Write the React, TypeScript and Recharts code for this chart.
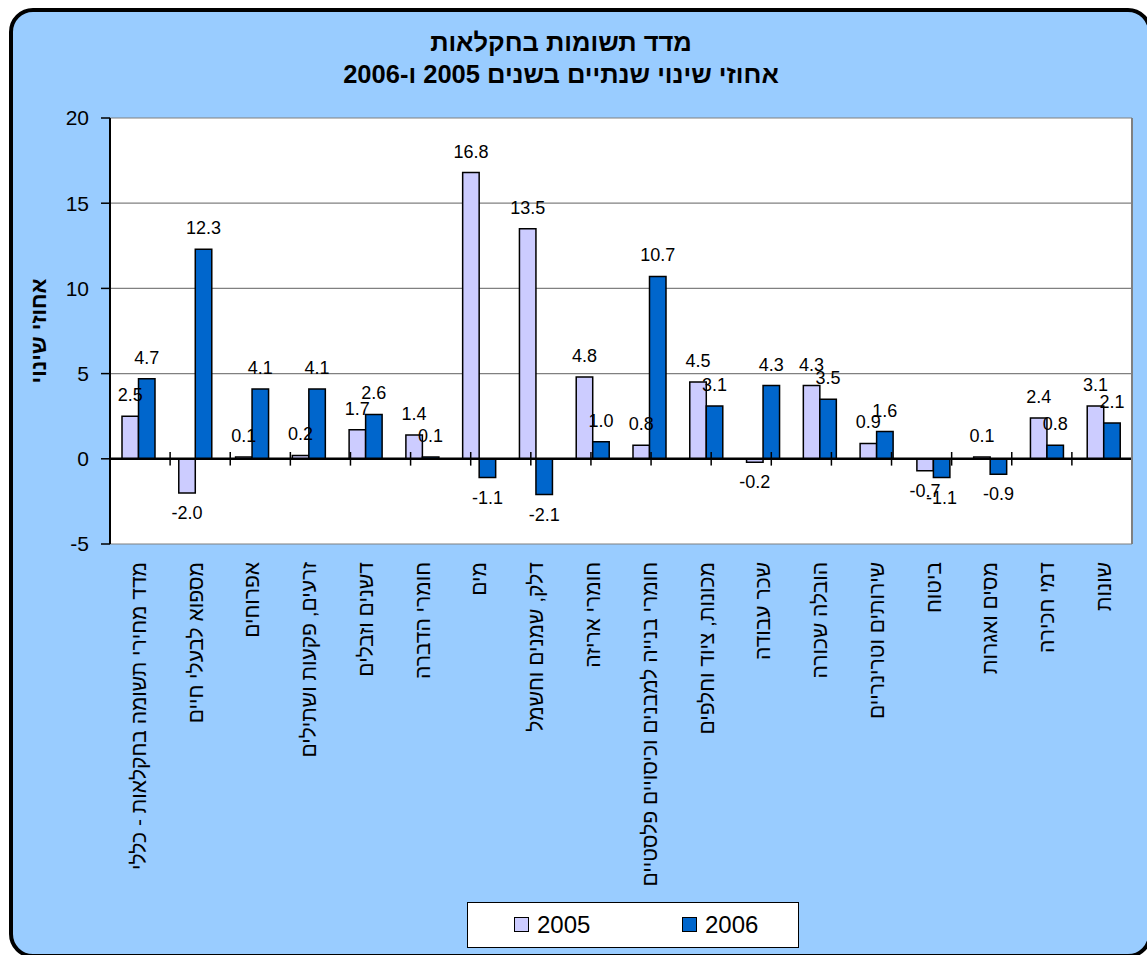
import React from 'react';
import { BarChart, Bar, XAxis, YAxis, CartesianGrid, ReferenceLine, LabelList, Label } from 'recharts';

const FONT = "Arial, 'Liberation Sans', 'DejaVu Sans', sans-serif";

const categories = [
  'מדד מחירי תשומה בחקלאות - כללי',
  'מספוא לבעלי חיים',
  'אפרוחים',
  'זרעים, פקעות ושתילים',
  'דשנים וזבלים',
  'חומרי הדברה',
  'מים',
  'דלק, שמנים וחשמל',
  'חומרי אריזה',
  'חומרי בנייה למבנים וכיסויים פלסטיים',
  'מכונות, ציוד וחלפים',
  'שכר עבודה',
  'הובלה שכורה',
  'שירותים וטרינריים',
  'ביטוח',
  'מסים ואגרות',
  'דמי חכירה',
  'שונות',
];

const values2005 = [2.5, -2.0, 0.1, 0.2, 1.7, 1.4, 16.8, 13.5, 4.8, 0.8, 4.5, -0.2, 4.3, 0.9, -0.7, 0.1, 2.4, 3.1];
const values2006 = [4.7, 12.3, 4.1, 4.1, 2.6, 0.1, -1.1, -2.1, 1.0, 10.7, 3.1, 4.3, 3.5, 1.6, -1.1, -0.9, 0.8, 2.1];

const seriesNames = ['2005', '2006'];
const seriesColors = ['#CCCCFF', '#0066CC'];
const yTicks = [-5, 0, 5, 10, 15, 20];
const yDomain = [-5, 20];

const titleLine1 = 'מדד תשומות בחקלאות';
const titleLine2 = 'אחוזי שינוי שנתיים בשנים 2005 ו-2006';
const yAxisTitle = 'אחוזי שינוי';

const data = categories.map((name, i) => ({ name, v2005: values2005[i], v2006: values2006[i] }));
const boundaries = [...categories.map((_, i) => i), categories.length];

const renderValueLabel = (props: any) => {
  const { x, y, width, height, value } = props;
  const xx = Number(x), yy = Number(y), w = Number(width), h = Number(height);
  const top = Math.min(yy, yy + h);
  const bottom = Math.max(yy, yy + h);
  const cx = xx + w / 2;
  const cy = Number(value) >= 0 ? top - 21 : bottom + 20;
  return (
    <text x={cx} y={cy} textAnchor="middle" dominantBaseline="central" fontSize={18} fontFamily={FONT} fill="#000">
      {Number(value).toFixed(1)}
    </text>
  );
};

const renderXTick = (props: any) => {
  const { x, y, payload } = props;
  return (
    <text
      transform={`translate(${x},${y}) rotate(-90)`}
      textAnchor="end"
      dy="0.35em"
      fontSize={21}
      fontFamily={FONT}
      fill="#000"
    >
      {payload.value}
    </text>
  );
};

const renderYTitle = (props: any) => {
  const vb = props.viewBox || {};
  const cx = vb.x + 18;
  const cy = vb.y + vb.height / 2;
  return (
    <text
      transform={`translate(${cx},${cy}) rotate(-90)`}
      textAnchor="middle"
      dominantBaseline="central"
      fontSize={22}
      fontWeight="bold"
      fontFamily={FONT}
      fill="#000"
    >
      {yAxisTitle}
    </text>
  );
};

export default function App() {
  return (
    <div style={{ position: 'fixed', left: 0, top: 0, width: 1147, height: 955, overflow: 'hidden', background: '#fff', fontFamily: FONT }}>
      <div
        style={{
          position: 'absolute',
          left: 9,
          top: 8,
          width: 1143,
          height: 950,
          boxSizing: 'border-box',
          border: '4px solid #000',
          borderRadius: 24,
          background: '#99CCFF',
        }}
      />
      <div style={{ position: 'absolute', left: 0, top: 25, width: 1122, textAlign: 'center', direction: 'rtl', fontWeight: 'bold', fontSize: 25.5, lineHeight: '34px', color: '#000' }}>
        {titleLine1}
      </div>
      <div style={{ position: 'absolute', left: 0, top: 57, width: 1122, textAlign: 'center', direction: 'rtl', fontWeight: 'bold', fontSize: 25.5, lineHeight: '34px', color: '#000' }}>
        {titleLine2}
      </div>
      <div style={{ position: 'absolute', left: 0, top: 0 }}>
        <BarChart
          width={1147}
          height={955}
          data={data}
          margin={{ top: 118, right: 10, left: 20, bottom: 51 }}
          barGap={0}
          barSize={16.5}
        >
          <CartesianGrid horizontal vertical={false} stroke="#808080" strokeWidth={1.2} fill="#FFFFFF" fillOpacity={1} />
          <XAxis
            dataKey="name"
            interval={0}
            height={360}
            tickSize={0}
            tickMargin={18}
            axisLine={false}
            tickLine={false}
            tick={renderXTick}
          />
          <XAxis xAxisId="num" type="number" domain={[0, categories.length]} allowDataOverflow hide />
          <YAxis
            domain={yDomain}
            ticks={yTicks}
            interval={0}
            width={90}
            allowDataOverflow
            axisLine={{ stroke: '#000', strokeWidth: 2 }}
            tickLine={{ stroke: '#000', strokeWidth: 1.5 }}
            tickSize={9}
            tickMargin={12}
            tick={{ fontSize: 21, fill: '#000', fontFamily: FONT }}
          >
            <Label content={renderYTitle} />
          </YAxis>
          <YAxis
            yAxisId="r"
            orientation="right"
            domain={yDomain}
            ticks={yTicks}
            width={5}
            tick={false}
            tickLine={false}
            axisLine={{ stroke: '#808080', strokeWidth: 2 }}
          />
          <Bar dataKey="v2005" name={seriesNames[0]} fill={seriesColors[0]} stroke="#000" strokeWidth={1.5} isAnimationActive={false}>
            <LabelList dataKey="v2005" content={renderValueLabel} />
          </Bar>
          <Bar dataKey="v2006" name={seriesNames[1]} fill={seriesColors[1]} stroke="#000" strokeWidth={1.5} isAnimationActive={false}>
            <LabelList dataKey="v2006" content={renderValueLabel} />
          </Bar>
          <ReferenceLine y={0} stroke="#000" strokeWidth={2.5} />
          {boundaries.map((b) => (
            <ReferenceLine
              key={b}
              xAxisId="num"
              segment={[{ x: b, y: -0.4 }, { x: b, y: 0.4 }]}
              stroke="#000"
              strokeWidth={1.5}
              ifOverflow="visible"
            />
          ))}
        </BarChart>
      </div>
      <div
        style={{
          position: 'absolute',
          left: 467,
          top: 902,
          width: 332,
          height: 46,
          boxSizing: 'border-box',
          background: '#fff',
          border: '1.5px solid #000',
        }}
      >
        {seriesNames.map((n, i) => (
          <div key={n} style={{ position: 'absolute', left: 46 + i * 168, top: 0, height: 43, display: 'flex', alignItems: 'center' }}>
            <span style={{ display: 'inline-block', width: 13, height: 13, background: seriesColors[i], border: '1.5px solid #000', marginRight: 8 }} />
            <span style={{ fontSize: 24, color: '#000', lineHeight: '24px' }}>{n}</span>
          </div>
        ))}
      </div>
    </div>
  );
}
